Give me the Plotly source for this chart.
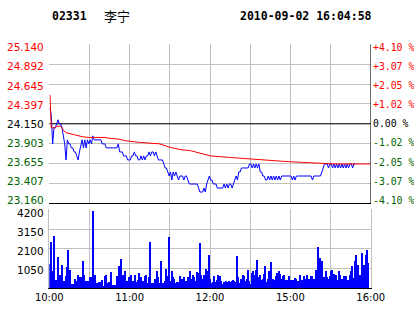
import plotly.graph_objects as go

# ---------------- data ----------------
code = "02331"
name = "李宁"
stamp = "2010-09-02 16:04:58"

prev_close = 24.150
price_ticks = [23.160, 23.407, 23.655, 23.903, 24.150, 24.397, 24.645, 24.892, 25.140]
price_labels = ["23.160", "23.407", "23.655", "23.903", "24.150", "24.397", "24.645", "24.892", "25.140"]
pct_labels = ["-4.10 %", "-3.07 %", "-2.05 %", "-1.02 %", "0.00 %", "+1.02 %", "+2.05 %", "+3.07 %", "+4.10 %"]

vol_ticks = [1050, 2100, 3150, 4200]
vol_labels = ["1050", "2100", "3150", "4200"]

time_ticks = [0, 30, 60, 90, 120, 150, 180, 210, 240]
time_labels = ["10:00", "", "11:00", "", "12:00", "", "15:00", "", "16:00"]

# last price per minute (minute index from 10:00, lunch break removed)
price = [
    24.35, 24.25, 23.90, 24.10, 24.10, 24.15, 24.20, 24.15, 24.15, 24.10,
    24.00, 23.90, 23.70, 23.95, 23.90, 23.90, 23.85, 23.85, 23.80, 23.80,
    23.75, 23.70, 23.80, 23.90, 23.95, 23.85, 23.95, 23.85, 23.95, 23.90,
    23.95, 23.90, 24.00, 23.95, 23.95, 23.95, 23.95, 23.95, 23.95, 23.90,
    23.90, 23.90, 23.85, 23.85, 23.85, 23.85, 23.85, 23.85, 23.85, 23.85,
    23.85, 23.90, 23.80, 23.80, 23.80, 23.75, 23.75, 23.75, 23.70, 23.70,
    23.70, 23.75, 23.75, 23.80, 23.75, 23.75, 23.70, 23.70, 23.75, 23.70,
    23.75, 23.70, 23.75, 23.75, 23.80, 23.75, 23.80, 23.80, 23.75, 23.80,
    23.75, 23.70, 23.70, 23.70, 23.70, 23.65, 23.60, 23.60, 23.55, 23.50,
    23.55, 23.45, 23.55, 23.50, 23.55, 23.50, 23.45, 23.50, 23.50, 23.50,
    23.45, 23.50, 23.50, 23.45, 23.40, 23.40, 23.40, 23.40, 23.40, 23.40,
    23.40, 23.35, 23.30, 23.30, 23.30, 23.35, 23.30, 23.40, 23.45, 23.50,
    23.45, 23.45, 23.40, 23.40, 23.40, 23.35, 23.35, 23.35, 23.35, 23.35,
    23.40, 23.35, 23.40, 23.35, 23.40, 23.40, 23.35, 23.40, 23.45, 23.50,
    23.45, 23.55, 23.55, 23.60, 23.60, 23.60, 23.60, 23.60, 23.60, 23.65,
    23.65, 23.60, 23.65, 23.60, 23.65, 23.60, 23.65, 23.55, 23.55, 23.50,
    23.50, 23.45, 23.45, 23.50, 23.45, 23.50, 23.45, 23.50, 23.45, 23.50,
    23.45, 23.50, 23.45, 23.50, 23.50, 23.50, 23.50, 23.50, 23.50, 23.50,
    23.50, 23.45, 23.50, 23.45, 23.50, 23.50, 23.50, 23.50, 23.50, 23.50,
    23.50, 23.50, 23.50, 23.50, 23.50, 23.50, 23.45, 23.50, 23.50, 23.50,
    23.50, 23.50, 23.50, 23.55, 23.60, 23.65, 23.65, 23.65, 23.60, 23.65,
    23.65, 23.60, 23.65, 23.60, 23.65, 23.60, 23.65, 23.60, 23.65, 23.60,
    23.65, 23.60, 23.65, 23.60, 23.65, 23.65, 23.60, 23.65, 23.65,
]

# average price line (minute, value)
avg_minutes = [0, 1, 4, 5, 8, 10, 12, 14, 19, 24, 29, 41, 44, 51, 56, 66, 74, 76, 82,
               89, 97, 105, 114, 120, 135, 150, 157, 165, 174, 188, 204, 213, 239]
avg_price = [24.51, 24.10, 24.10, 24.12, 24.12, 24.07, 24.04, 24.03, 24.01, 23.99, 23.98,
             23.98, 23.97, 23.96, 23.94, 23.92, 23.91, 23.90, 23.90, 23.86, 23.83, 23.815,
             23.78, 23.75, 23.73, 23.71, 23.70, 23.695, 23.683, 23.67, 23.658, 23.65, 23.65]

# volume per minute
volume = [
    1290, 2425, 885, 2780, 180, 440, 1630, 495, 670, 1240,
    250, 390, 620, 1130, 2035, 975, 230, 230, 210, 495,
    355, 710, 390, 600, 600, 1450, 710, 390, 390, 390,
    565, 600, 4100, 530, 670, 265, 230, 320, 320, 440,
    125, 620, 710, 250, 320, 265, 850, 180, 180, 180,
    655, 390, 1185, 1560, 285, 710, 920, 320, 390, 600,
    600, 670, 390, 265, 710, 320, 440, 815, 600, 355,
    355, 620, 710, 285, 565, 2460, 250, 285, 250, 495,
    885, 565, 265, 1450, 285, 285, 390, 1025, 620, 2690,
    390, 920, 565, 495, 285, 320, 320, 655, 355, 495,
    565, 320, 355, 565, 390, 885, 495, 710, 565, 390,
    850, 780, 2410, 710, 495, 710, 565, 1025, 920, 1770,
    495, 265, 320, 655, 320, 440, 710, 655, 355, 230,
    320, 320, 390, 320, 390, 320, 390, 440, 390, 320,
    1715, 600, 265, 495, 670, 620, 355, 495, 975, 390,
    210, 800, 920, 710, 975, 1505, 565, 710, 440, 495,
    760, 1185, 320, 495, 885, 1360, 495, 460, 425, 620,
    800, 920, 745, 460, 620, 710, 440, 440, 440, 620,
    440, 390, 425, 530, 495, 390, 390, 670, 440, 440,
    620, 495, 670, 495, 495, 620, 655, 495, 495, 975,
    2195, 1100, 1595, 1450, 390, 565, 885, 565, 495, 640,
    920, 975, 745, 495, 710, 440, 920, 670, 495, 320,
    620, 620, 390, 440, 670, 885, 1150, 530, 1450, 1770,
    1240, 710, 710, 1860, 800, 1240, 1735, 2035, 1330,
]

# ---------------- figure ----------------
RED = "#ff0000"
GREEN = "#006400"
BLUE = "#0000ff"
GRID = "#c0c0c0"

def colour_for(v):
    if abs(v - prev_close) < 1e-6:
        return "#000000"
    return RED if v > prev_close else GREEN

W, H = 414, 314
x0, x1 = 49.3 / W, 370.7 / W
py0, py1 = 1 - 203.3 / H, 1 - 44.3 / H
vy0, vy1 = 1 - 288.3 / H, 1 - 209.3 / H

fig = go.Figure()

fig.add_trace(go.Bar(
    x=[m + 0.5 for m in range(len(volume))], y=volume,
    marker=dict(color=BLUE, line=dict(width=0)), width=0.75,
    xaxis="x2", yaxis="y2", showlegend=False, hoverinfo="skip",
))
fig.add_trace(go.Scatter(
    x=[m + 0.5 for m in range(len(price))], y=price, mode="lines",
    line=dict(color=BLUE, width=1), xaxis="x", yaxis="y", showlegend=False,
    hoverinfo="skip",
))
fig.add_trace(go.Scatter(
    x=[m + 0.5 for m in avg_minutes], y=avg_price, mode="lines",
    line=dict(color=RED, width=1), xaxis="x", yaxis="y", showlegend=False,
    hoverinfo="skip",
))

sans = "DejaVu Sans"
mono = "DejaVu Sans Mono"

fig.update_layout(
    width=W, height=H,
    margin=dict(l=0, r=0, t=0, b=0, pad=0, autoexpand=False),
    paper_bgcolor="white", plot_bgcolor="white",
    showlegend=False,
    bargap=0,
    xaxis=dict(domain=[x0, x1], anchor="y", range=[0, 240], tickmode="array",
               tickvals=time_ticks, showticklabels=False, showgrid=True,
               gridcolor=GRID, gridwidth=1, zeroline=False, showline=True,
               linecolor="black", linewidth=1, ticks="", automargin=False),
    yaxis=dict(domain=[py0, py1], anchor="x", range=[price_ticks[0], price_ticks[-1]],
               tickmode="array", tickvals=price_ticks, showticklabels=False,
               showgrid=True, gridcolor=GRID, gridwidth=1, zeroline=False,
               ticks="", automargin=False),
    xaxis2=dict(domain=[x0, x1], anchor="y2", range=[0, 240], tickmode="array",
                tickvals=time_ticks, ticktext=time_labels, showgrid=True,
                gridcolor=GRID, gridwidth=1, zeroline=False, showline=True,
                linecolor="black", linewidth=1, ticks="", automargin=False,
                tickfont=dict(family=sans, size=10, color="black")),
    yaxis2=dict(domain=[vy0, vy1], anchor="x2", range=[0, 4200], tickmode="array",
                tickvals=vol_ticks, showticklabels=False, showgrid=True,
                gridcolor=GRID, gridwidth=1, zeroline=False, ticks="",
                automargin=False, showline=True, linecolor=GRID, mirror=True),
)

# right border of the price pane and previous-close line
fig.add_shape(type="line", xref="x", yref="y", x0=240, x1=240,
              y0=price_ticks[0], y1=price_ticks[-1], line=dict(color="black", width=1))
fig.add_shape(type="line", xref="x", yref="y", x0=0, x1=240, y0=prev_close, y1=prev_close,
              line=dict(color="black", width=1), layer="between")

# axis labels (placed on the axis scale, nudged like the original terminal)
n = len(price_ticks)
for i, (v, t, p) in enumerate(zip(price_ticks, price_labels, pct_labels)):
    shift = 3 - 6 * i / (n - 1)
    c = colour_for(v)
    fig.add_annotation(text=t, xref="paper", yref="y", x=45 / W, y=v, yshift=shift,
                       xanchor="right", yanchor="middle", showarrow=False, borderpad=0,
                       font=dict(family=sans, size=10.5, color=c))
    fig.add_annotation(text=p, xref="paper", yref="y", x=371.5 / W, y=v, yshift=shift,
                       xanchor="left", yanchor="middle", showarrow=False, borderpad=0,
                       font=dict(family=mono, size=9.8, color=c))
for k, (v, t) in enumerate(zip(vol_ticks, vol_labels)):
    fig.add_annotation(text=t, xref="paper", yref="y2", x=45 / W, y=v, yshift=-(k + 1),
                       xanchor="right", yanchor="middle", showarrow=False, borderpad=0,
                       font=dict(family=sans, size=10.5, color="black"))

ty = 1 - 16 / H
fig.add_annotation(text=f"<b>{code}</b>", xref="paper", yref="paper", x=50 / W, y=ty,
                   xanchor="left", yanchor="middle", showarrow=False,
                   font=dict(family=mono, size=11.5, color="black"))
fig.add_annotation(text=name, xref="paper", yref="paper", x=102 / W, y=ty,
                   xanchor="left", yanchor="middle", showarrow=False,
                   font=dict(family="Noto Sans CJK SC", size=13, color="black"))
fig.add_annotation(text=f"<b>{stamp}</b>", xref="paper", yref="paper", x=238 / W, y=ty,
                   xanchor="left", yanchor="middle", showarrow=False,
                   font=dict(family=mono, size=11.5, color="black"))

fig.write_html("out.html")
